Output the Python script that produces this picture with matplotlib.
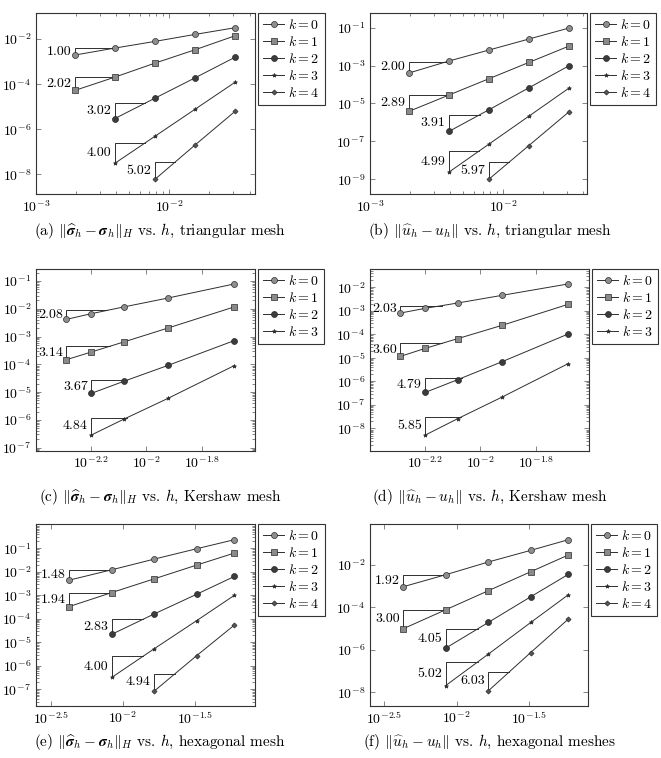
import numpy as np
import matplotlib
matplotlib.use('Agg')
import matplotlib.pyplot as plt
from matplotlib.ticker import FixedLocator, FuncFormatter, LogLocator, NullLocator, LogFormatterMathtext

plt.rcParams['mathtext.fontset'] = 'cm'
plt.rcParams['font.family'] = 'serif'
plt.rcParams['font.serif'] = ['cmr10', 'DejaVu Serif']
plt.rcParams['axes.formatter.use_mathtext'] = True

# mesh sizes
h_tri = [1 / 512, 1 / 256, 1 / 128, 1 / 64, 1 / 32]
h_ker = [0.00513, 0.00631, 0.00826, 0.01197, 0.02075]
h_hex = [0.00426, 0.00841, 0.0166, 0.0327, 0.0596]

# first mesh index used by each k
start5 = [0, 0, 1, 1, 2]
start4 = [0, 0, 1, 1]

# (a) sigma error, triangular
err_a = [
    [1.95e-3, 3.98e-3, 7.87e-3, 1.61e-2, 3.19e-2],
    [5.24e-5, 2.05e-4, 8.57e-4, 3.36e-3, 1.41e-2],
    [2.98e-6, 2.39e-5, 1.91e-4, 1.58e-3],
    [3.08e-8, 4.89e-7, 7.74e-6, 1.23e-4],
    [6.0e-9, 2.01e-7, 6.31e-6],
]
rate_a = [1.00, 2.02, 3.02, 4.00, 5.02]

# (b) u error, triangular
err_b = [
    [4.02e-4, 1.73e-3, 6.59e-3, 2.52e-2, 9.59e-2],
    [3.78e-6, 2.76e-5, 2.01e-4, 1.47e-3, 1.07e-2],
    [3.31e-7, 4.62e-6, 6.73e-5, 9.79e-4],
    [2.34e-9, 7.08e-8, 2.14e-6, 6.47e-5],
    [1.0e-9, 6.03e-8, 3.62e-6],
]
rate_b = [2.00, 2.89, 3.91, 4.99, 5.97]

# (c) sigma error, Kershaw
err_c = [
    [4.16e-3, 6.65e-3, 1.16e-2, 2.44e-2, 7.80e-2],
    [1.47e-4, 2.77e-4, 6.35e-4, 2.03e-3, 1.16e-2],
    [8.99e-6, 2.43e-5, 9.16e-5, 7.10e-4],
    [2.84e-7, 1.05e-6, 5.97e-6, 8.91e-5],
]
rate_c = [2.08, 3.14, 3.67, 4.84]

# (d) u error, Kershaw
err_d = [
    [8.09e-4, 1.28e-3, 2.15e-3, 4.57e-3, 1.39e-2],
    [1.16e-5, 2.54e-5, 6.55e-5, 2.42e-4, 1.89e-3],
    [3.40e-7, 1.18e-6, 6.87e-6, 1.03e-4],
    [5.20e-9, 2.58e-8, 2.15e-7, 5.65e-6],
]
rate_d = [2.03, 3.60, 4.79, 5.85]

# (e) sigma error, hexagonal
err_e = [
    [4.46e-3, 1.23e-2, 3.51e-2, 9.68e-2, 2.34e-1],
    [3.35e-4, 1.32e-3, 5.08e-3, 1.95e-2, 6.32e-2],
    [2.21e-5, 1.63e-4, 1.12e-3, 6.38e-3],
    [3.23e-7, 5.40e-6, 8.45e-5, 1.0e-3],
    [8.49e-8, 2.74e-6, 5.40e-5],
]
rate_e = [1.48, 1.94, 2.83, 4.00, 4.94]

# (f) u error, hexagonal
err_f = [
    [9.20e-4, 3.38e-3, 1.34e-2, 4.73e-2, 1.50e-1],
    [9.68e-6, 7.60e-5, 5.97e-4, 4.68e-3, 2.85e-2],
    [1.19e-6, 1.92e-5, 3.11e-4, 3.51e-3],
    [2.07e-8, 6.21e-7, 1.92e-5, 3.86e-4],
    [1.16e-8, 7.43e-7, 2.76e-5],
]
rate_f = [1.92, 3.00, 4.05, 5.02, 6.03]

captions = [
    r'(a) $\Vert\widehat{\boldsymbol{\sigma}}_h - \boldsymbol{\sigma}_h\Vert_H$ vs. $h$, triangular mesh',
    r'(b) $\Vert\widehat{u}_h - u_h\Vert$ vs. $h$, triangular mesh',
    r'(c) $\Vert\widehat{\boldsymbol{\sigma}}_h - \boldsymbol{\sigma}_h\Vert_H$ vs. $h$, Kershaw mesh',
    r'(d) $\Vert\widehat{u}_h - u_h\Vert$ vs. $h$, Kershaw mesh',
    r'(e) $\Vert\widehat{\boldsymbol{\sigma}}_h - \boldsymbol{\sigma}_h\Vert_H$ vs. $h$, hexagonal mesh',
    r'(f) $\Vert\widehat{u}_h - u_h\Vert$ vs. $h$, hexagonal meshes',
]

# styles per k
MARKERS = ['o', 's', 'o', '*', 'D']
FACES = ['#8e8e8e', '#8a8a8a', '#3c3c3c', '#333333', '#555555']
MSIZES = [4.3, 4.3, 4.3, 3.0, 2.6]
LINE_C = '#2e2e2e'

W, H = 661, 758


def add_axes(fig, x0, y0, x1, y1):
    return fig.add_axes([x0 / W, 1 - y1 / H, (x1 - x0) / W, (y1 - y0) / H])


def slope_triangle(ax, h, e, rate, width):
    lx = np.log10(h)
    ly = np.log10(e)
    top = ly[0] + rate * width
    xe = np.interp(top, ly, lx)
    ax.plot([h[0], h[0], 10 ** xe], [e[0], 10 ** top, 10 ** top],
            color=LINE_C, lw=0.7, zorder=2)
    ax.annotate('%.2f' % rate, xy=(h[0], 10 ** (ly[0] + rate * width / 2)),
                xytext=(-2.5, 0), textcoords='offset points',
                ha='right', va='center', fontsize=10)


def frac_fmt(v, pos):
    p = np.log10(v)
    if abs(p - round(p)) < 1e-6:
        return r'$10^{%d}$' % round(p)
    return r'$10^{%g}$' % round(p, 1)


def draw_panel(fig, box, hs, errs, rates, starts, tri_w, xlim, ylim, xticks,
               yticks, ycount_minor, caption, cap_xy):
    ax = add_axes(fig, *box)
    for k, e in enumerate(errs):
        h = np.array(hs[starts[k]:starts[k] + len(e)])
        e = np.array(e)
        ax.plot(h, e, color=LINE_C, lw=0.7, marker=MARKERS[k],
                markerfacecolor=FACES[k], markeredgecolor='#2a2a2a',
                markeredgewidth=0.5, markersize=MSIZES[k], label=r'$k = %d$' % k,
                zorder=3)
        slope_triangle(ax, h, e, rates[k], tri_w[k])
    ax.set_xscale('log')
    ax.set_yscale('log')
    ax.set_xlim(10 ** xlim[0], 10 ** xlim[1])
    ax.set_ylim(10 ** ylim[0], 10 ** ylim[1])
    if xticks is None:
        ax.xaxis.set_major_locator(FixedLocator([1e-3, 1e-2]))
        ax.xaxis.set_major_formatter(LogFormatterMathtext())
        ax.xaxis.set_minor_locator(LogLocator(subs=np.arange(2, 10)))
    else:
        ax.xaxis.set_major_locator(FixedLocator([10 ** t for t in xticks]))
        ax.xaxis.set_major_formatter(FuncFormatter(frac_fmt))
        ax.xaxis.set_minor_locator(NullLocator())
    ax.xaxis.set_minor_formatter(plt.NullFormatter())
    ax.yaxis.set_major_locator(FixedLocator([10.0 ** t for t in yticks]))
    ax.yaxis.set_major_formatter(LogFormatterMathtext())
    if ycount_minor:
        ax.yaxis.set_minor_locator(LogLocator(subs=np.arange(2, 10), numticks=30))
    else:
        ax.yaxis.set_minor_locator(NullLocator())
    ax.yaxis.set_minor_formatter(plt.NullFormatter())
    ax.tick_params(which='both', direction='in', top=True, right=True,
                   labelsize=10, width=0.5, color='#555555')
    ax.tick_params(which='major', length=3.5)
    ax.tick_params(which='minor', length=2)
    for s in ax.spines.values():
        s.set_linewidth(0.8)
        s.set_color('#333333')
    leg = ax.legend(loc='upper left', bbox_to_anchor=(1.015, 1.0),
                    borderaxespad=0, fancybox=False, edgecolor='#333333',
                    fontsize=10, handlelength=1.5, handletextpad=0.3,
                    borderpad=0.35, labelspacing=0.22, framealpha=1)
    leg.get_frame().set_linewidth(0.8)
    fig.text(cap_xy[0] / W, 1 - cap_xy[1] / H, caption, ha='center', va='center',
             fontsize=11)
    return ax


fig = plt.figure(figsize=(6.61, 7.58), dpi=100)

tri_big = [0.3, 0.3, 0.225, 0.225, 0.15]
tri_ker = [0.155, 0.155, 0.13, 0.13]

draw_panel(fig, (36, 13, 255, 194), h_tri, err_a, rate_a, start5, tri_big,
           (-3, -1.357), (-8.874, -0.844), None, [-2, -4, -6, -8], False,
           captions[0], (160, 231))
draw_panel(fig, (370, 13, 587, 194), h_tri, err_b, rate_b, start5, tri_big,
           (-3, -1.37), (-9.78, -0.225), None, [-1, -3, -5, -7, -9], False,
           captions[1], (490, 231))
draw_panel(fig, (36, 269, 255, 451), h_ker, err_c, rate_c, start4, tri_ker,
           (-2.4, -1.607), (-7.12, -0.568), [-2.2, -2, -1.8], range(-7, 0), True,
           captions[2], (160, 497))
draw_panel(fig, (370, 269, 589, 451), h_ker, err_d, rate_d, start4, tri_ker,
           (-2.4, -1.607), (-8.96, -1.22), [-2.2, -2, -1.8], range(-8, -1), True,
           captions[3], (490, 497))
draw_panel(fig, (36, 524, 255, 706), h_hex, err_e, rate_e, start5, tri_big,
           (-2.602, -1.081), (-7.71, 0.038), [-2.5, -2, -1.5], range(-7, 0), True,
           captions[4], (160, 742))
draw_panel(fig, (370, 524, 588, 706), h_hex, err_f, rate_f, start5, tri_big,
           (-2.6, -1.088), (-8.644, -0.085), [-2.5, -2, -1.5], [-2, -4, -6, -8], False,
           captions[5], (490, 742))

fig.savefig('out.png', dpi=100)
